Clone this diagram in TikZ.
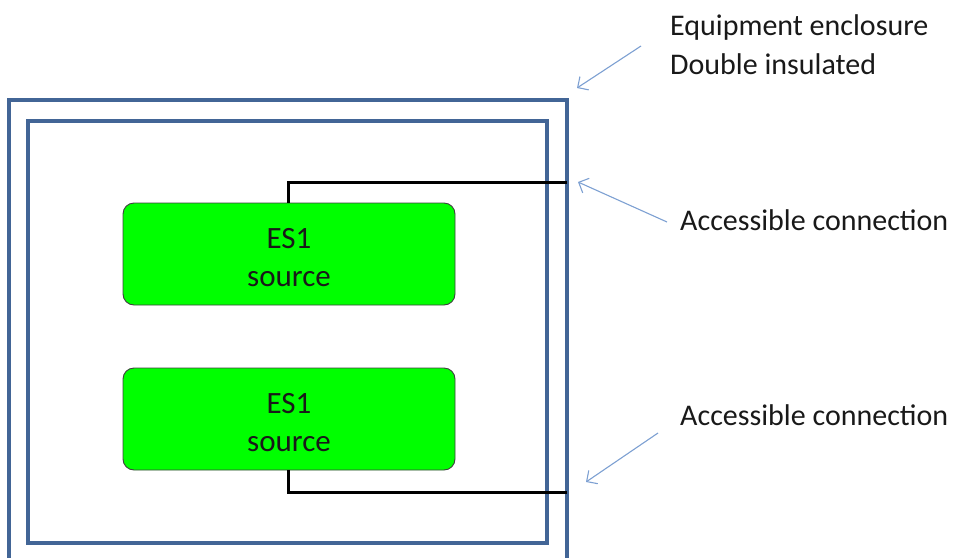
\documentclass[tikz,border=0pt]{standalone}
\usepackage{fontspec}
\setmainfont{Carlito}
\usetikzlibrary{arrows.meta}
\definecolor{encl}{RGB}{66,101,150}
\definecolor{callout}{RGB}{125,160,210}
\definecolor{esgreen}{RGB}{0,255,0}
\tikzset{
  enclosure/.style={draw=encl, line width=3.3pt},
  source/.style={draw=black!75, fill=esgreen, rounded corners=11pt, line width=0.9pt,
    minimum width=332pt, minimum height=102pt, inner sep=0pt, align=center,
    font=\fontsize{31}{38}\selectfont, text=black!90},
  wire/.style={draw=black, line width=3pt},
  pointer/.style={draw=callout, line width=1.1pt, -{Straight Barb[length=8pt,width=16pt]}},
  label/.style={anchor=base west, inner sep=0pt, font=\fontsize{30}{30}\selectfont, text=black!90}
}
\begin{document}
\begin{tikzpicture}[x=1pt,y=-1pt]
\useasboundingbox (0,0) rectangle (955,557);
% enclosures
\draw[enclosure] (9,600) -- (9,100) -- (567,100) -- (567,600);
\draw[enclosure] (28,121) rectangle (547,543);
% sources
\node[source] (s1) at (289,254) {\rule{0pt}{28pt}ES1\\source};
\node[source] (s2) at (289,419) {\rule{0pt}{28pt}ES1\\source};
% wires
\coordinate (t1) at (288,182);
\coordinate (e1) at (567,182);
\coordinate (t2) at (288,492);
\coordinate (e2) at (567,492);
\draw[wire] (s1.north -| t1) -- (t1) -- (e1);
\draw[wire] (s2.south -| t2) -- (t2) -- (e2);
% labels
\node[label] (l1) at (670,35) {Equipment enclosure};
\node[label] (l2) at (670,74) {Double insulated};
\node[label] (l3) at (680,230) {Accessible connection};
\node[label] (l4) at (680,425) {Accessible connection};
% pointers
\coordinate (p1s) at (641,46);
\coordinate (p1e) at (577,88);
\coordinate (p2s) at (667,222);
\coordinate (p2e) at (578,182);
\coordinate (p3s) at (658,433);
\coordinate (p3e) at (586,482);
\draw[pointer] (p1s) -- (p1e);
\draw[pointer] (p2s) -- (p2e);
\draw[pointer] (p3s) -- (p3e);
\end{tikzpicture}
\end{document}
